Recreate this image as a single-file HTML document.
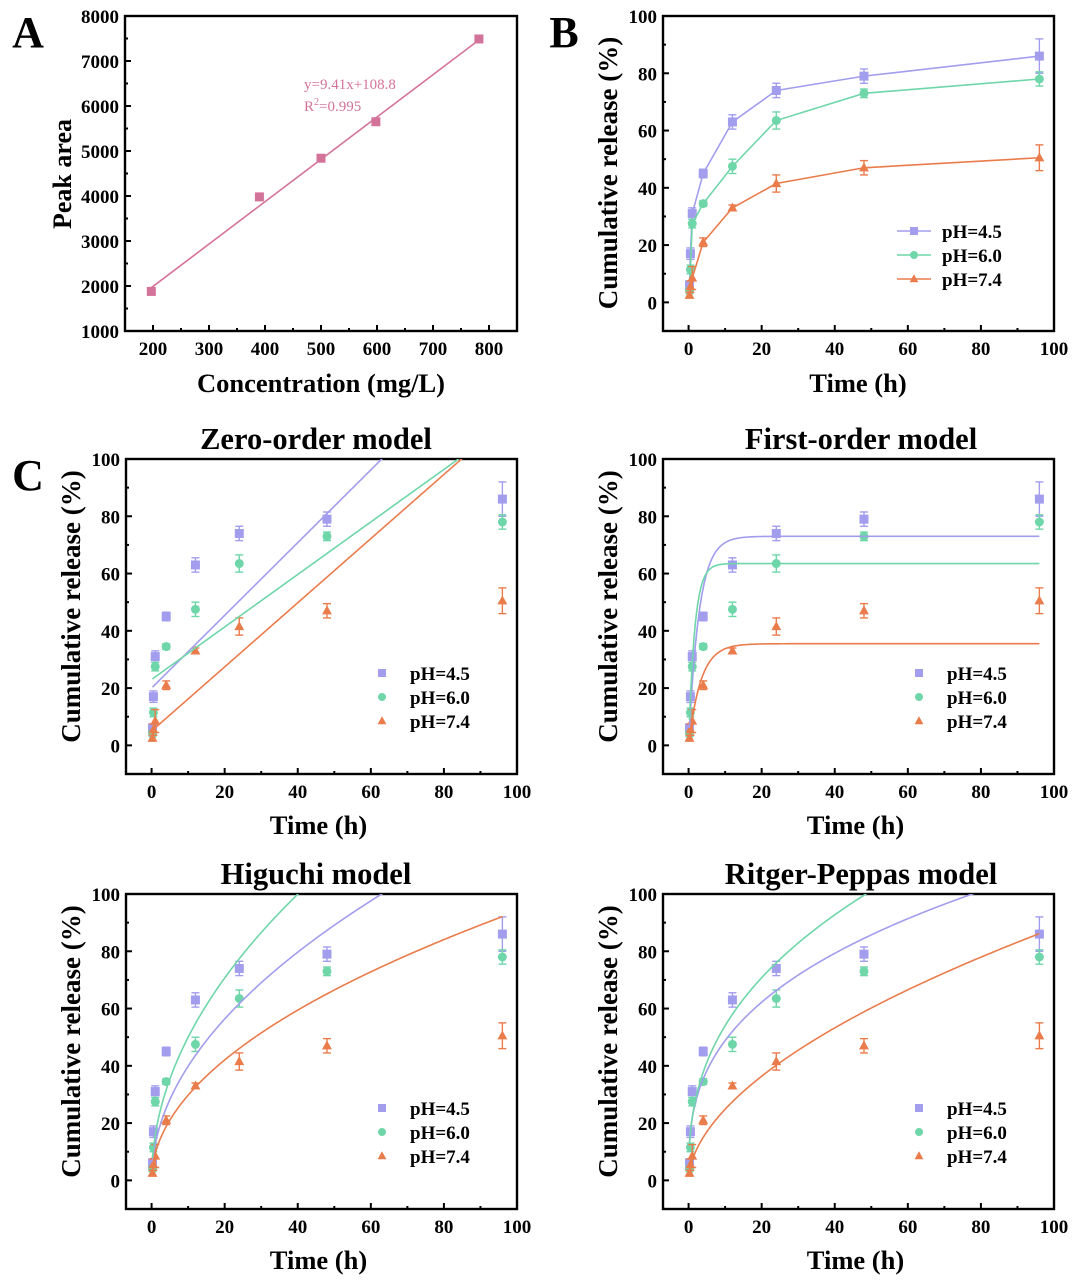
<!DOCTYPE html>
<html><head><meta charset="utf-8">
<style>
body{margin:0;background:#fff;}
svg{display:block;font-family:"Liberation Serif",serif;font-weight:bold;}
</style></head>
<body>
<svg id="fig" width="1080" height="1282" viewBox="0 0 1080 1282" xmlns="http://www.w3.org/2000/svg"></svg>
<script>
// ---- data ----
const concX = [197, 390, 500, 598, 782];
const peakY = [1880, 3980, 4840, 5650, 7490];
const calSlope = 9.41, calIntercept = 108.8;

const times = [0.25, 0.5, 1, 4, 12, 24, 48, 96];
const rel45 = [6, 17, 31, 45, 63, 74, 79, 86];
const err45 = [1.5, 2, 2, 1.5, 2.5, 2.5, 2.5, 6];
const rel60 = [4, 11.5, 27.5, 34.5, 47.5, 63.5, 73, 78];
const err60 = [1, 1.5, 1.5, 1, 2.5, 3, 1.5, 2.5];
const rel74 = [2.5, 5.5, 8.5, 21, 33, 41.5, 47, 50.5];
const err74 = [1, 2, 4, 1.5, 1, 3, 2.5, 4.5];
const legendLabels = ["pH=4.5", "pH=6.0", "pH=7.4"];

// model params [pH4.5, pH6.0, pH7.4]
const zeroSlope = [1.27, 0.917, 1.12];
const zeroIntercept = [20, 23, 5];
const firstQmax = [73, 63.5, 35.5];
const firstK = [0.35, 0.6, 0.3];
const higuchiK = [12.6, 15.8, 9.4];
const peppasK = [21.8, 22, 7.0];
const peppasN = [0.35, 0.39, 0.55];

const xTicksA = [200, 300, 400, 500, 600, 700, 800];
const yTicksA = [1000, 2000, 3000, 4000, 5000, 6000, 7000, 8000];
const xTicksT = [0, 20, 40, 60, 80, 100];
const yTicksR = [0, 20, 40, 60, 80, 100];

const colors = ["#a29ded", "#6fd6a9", "#ea7c4c"];
const pink = "#d4739a";
const NS = "http://www.w3.org/2000/svg";
const svg = document.getElementById("fig");
const TICKFS = 19;

function mk(tag, attrs, parent, text){
  const e = document.createElementNS(NS, tag);
  for (const k in attrs) e.setAttribute(k, attrs[k]);
  if (text !== undefined) e.textContent = text;
  (parent || svg).appendChild(e);
  return e;
}

function axes(box, xmin, xmax, ymin, ymax, xticks, yticks, name){
  const g = mk("g", {});
  
  
  const sx = v => box.x0 + (v - xmin) / (xmax - xmin) * (box.x1 - box.x0);
  const sy = v => box.y1 - (v - ymin) / (ymax - ymin) * (box.y1 - box.y0);
  const fr = mk("rect", {x: box.x0, y: box.y0, width: box.x1 - box.x0, height: box.y1 - box.y0, fill: "none", stroke: "#000", "stroke-width": 2.4}, g);
  
  
  const dx = xticks[1] - xticks[0], dy = yticks[1] - yticks[0];
  xticks.forEach((t, i) => {
    mk("line", {x1: sx(t), x2: sx(t), y1: box.y1, y2: box.y1 - 6, stroke: "#000", "stroke-width": 2}, g);
    if (i < xticks.length - 1) { const m = t + dx / 2; if (m <= xmax) mk("line", {x1: sx(m), x2: sx(m), y1: box.y1, y2: box.y1 - 3, stroke: "#000", "stroke-width": 2}, g); }
    const tl = mk("text", {x: sx(t), y: box.y1 + 24, "text-anchor": "middle", "font-size": TICKFS}, g, String(t));
    
    
  });
  yticks.forEach((t, i) => {
    mk("line", {x1: box.x0, x2: box.x0 + 6, y1: sy(t), y2: sy(t), stroke: "#000", "stroke-width": 2}, g);
    const m = t + dy / 2; if (i < yticks.length - 1) mk("line", {x1: box.x0, x2: box.x0 + 3, y1: sy(m), y2: sy(m), stroke: "#000", "stroke-width": 2}, g);
    const tl = mk("text", {x: box.x0 - 6, y: sy(t) + 7, "text-anchor": "end", "font-size": TICKFS}, g, String(t));
    
    
  });
  const clipId = "c" + name;
  const cp = mk("clipPath", {id: clipId}, g);
  mk("rect", {x: box.x0, y: box.y0, width: box.x1 - box.x0, height: box.y1 - box.y0}, cp);
  return {g, sx, sy, clip: "url(#" + clipId + ")"};
}

function marker(g, type, x, y, c, s){
  let m;
  if (type === 0) m = mk("rect", {x: x - s, y: y - s, width: 2 * s, height: 2 * s, fill: c}, g);
  else if (type === 1) m = mk("circle", {cx: x, cy: y, r: s, fill: c}, g);
  else m = mk("polygon", {points: `${x},${y - s * 1.2} ${x - s * 1.1},${y + s * 0.8} ${x + s * 1.1},${y + s * 0.8}`, fill: c}, g);
  
  
  return m;
}

function scatter(ax, connect){
  const series = [[rel45, err45], [rel60, err60], [rel74, err74]];
  series.forEach((s, k) => {
    const sg = mk("g", {}, ax.g);
    
    
    if (connect) {
      const p = mk("polyline", {points: times.map((t, i) => ax.sx(t) + "," + ax.sy(s[0][i])).join(" "), fill: "none", stroke: colors[k], "stroke-width": 1.6}, sg);
      
      
    }
    times.forEach((t, i) => {
      const x = ax.sx(t), y1 = ax.sy(s[0][i] + s[1][i]), y2 = ax.sy(s[0][i] - s[1][i]);
      mk("line", {x1: x, x2: x, y1: y1, y2: y2, stroke: colors[k], "stroke-width": 1.4}, sg);
      mk("line", {x1: x - 4, x2: x + 4, y1: y1, y2: y1, stroke: colors[k], "stroke-width": 1.4}, sg);
      mk("line", {x1: x - 4, x2: x + 4, y1: y2, y2: y2, stroke: colors[k], "stroke-width": 1.4}, sg);
      marker(sg, k, x, ax.sy(s[0][i]), colors[k], 4.5);
    });
  });
}

function curve(ax, f, k, t0){
  const pts = [];
  for (let i = 0; i <= 300; i++) { const t = t0 + (96 - t0) * i / 300; pts.push(ax.sx(t) + "," + ax.sy(f(t))); }
  const p = mk("polyline", {points: pts.join(" "), fill: "none", stroke: colors[k], "stroke-width": 1.6, "clip-path": ax.clip}, ax.g);
  
  
}

function legend(ax, x, y, withLine){
  const lg = mk("g", {}, ax.g);
  
  
  legendLabels.forEach((l, k) => {
    const yy = y + k * 24;
    if (withLine) mk("line", {x1: x - 17, x2: x + 17, y1: yy, y2: yy, stroke: colors[k], "stroke-width": 1.6}, lg);
    marker(lg, k, x, yy, colors[k], 4);
    const t = mk("text", {x: x + 28, y: yy + 7, "font-size": 19}, lg, l);
    
    
  });
}

function text(x, y, s, size, name, rot){
  const t = mk("text", {x, y, "font-size": size, "text-anchor": "middle"}, svg, s);
  if (rot) t.setAttribute("transform", `rotate(-90 ${x} ${y})`);
  
  
  return t;
}

// ---- Panel A ----
const axA = axes({x0: 125, x1: 517, y0: 16, y1: 331}, 150, 850, 1000, 8000, xTicksA, yTicksA, "panel-a");
const fitA = mk("line", {x1: axA.sx(concX[0]), y1: axA.sy(calSlope * concX[0] + calIntercept), x2: axA.sx(concX[4]), y2: axA.sy(calSlope * concX[4] + calIntercept), stroke: pink, "stroke-width": 1.6}, axA.g);


concX.forEach((c, i) => marker(axA.g, 0, axA.sx(c), axA.sy(peakY[i]), pink, 4.5));
const eq = mk("text", {x: 304, y: 89, "font-size": 15, fill: pink, "font-weight": "normal"}, axA.g, "y=9.41x+108.8");


const r2 = mk("text", {x: 304, y: 111, "font-size": 15, fill: pink, "font-weight": "normal"}, axA.g);


r2.innerHTML = 'R<tspan dy="-6" font-size="10">2</tspan><tspan dy="6">=0.995</tspan>';
text(321, 392, "Concentration (mg/L)", 26.5, "x-axis-title-a");
text(71, 174, "Peak area", 26, "y-axis-title-a", true);
text(28, 47, "A", 44, "panel-label-a");

// ---- Panel B ----
const axB = axes({x0: 663, x1: 1054, y0: 16, y1: 331}, -7, 100, -10, 100, xTicksT, yTicksR, "panel-b");
scatter(axB, true);
legend(axB, 914, 231, true);
text(858, 392, "Time (h)", 26.5, "x-axis-title-b");
text(617, 173, "Cumulative release (%)", 27, "y-axis-title-b", true);
text(564, 47, "B", 44, "panel-label-b");

// ---- Panel C ----
text(28, 490, "C", 44, "panel-label-c");
const panels = [
  {box: {x0: 126, x1: 517, y0: 459, y1: 774}, title: "Zero-order model", tx: 316, ty: 449, name: "zero-order", f: (k) => (t) => zeroSlope[k] * t + zeroIntercept[k], t0: 0.25},
  {box: {x0: 663, x1: 1054, y0: 459, y1: 774}, title: "First-order model", tx: 861, ty: 449, name: "first-order", f: (k) => (t) => firstQmax[k] * (1 - Math.exp(-firstK[k] * t)), t0: 0.25},
  {box: {x0: 126, x1: 517, y0: 894, y1: 1209}, title: "Higuchi model", tx: 316, ty: 884, name: "higuchi", f: (k) => (t) => higuchiK[k] * Math.sqrt(t), t0: 0.25},
  {box: {x0: 663, x1: 1054, y0: 894, y1: 1209}, title: "Ritger-Peppas model", tx: 861, ty: 884, name: "ritger-peppas", f: (k) => (t) => peppasK[k] * Math.pow(t, peppasN[k]), t0: 0.25}
];
panels.forEach(p => {
  const ax = axes(p.box, -7, 100, -10, 100, xTicksT, yTicksR, "panel-" + p.name);
  scatter(ax, false);
  [0, 1, 2].forEach(k => curve(ax, p.f(k), k, p.t0));
  legend(ax, p.box.x0 + 256, p.box.y0 + 214, false);
  text(p.tx, p.ty, p.title, 30.5, "title-" + p.name);
  text((p.box.x0 + p.box.x1) / 2 - 3, p.box.y1 + 60, "Time (h)", 26.5, "x-axis-title-" + p.name);
  text(p.box.x0 - 46, (p.box.y0 + p.box.y1) / 2 - 10, "Cumulative release (%)", 27, "y-axis-title-" + p.name, true);
});
</script>
</body></html>
